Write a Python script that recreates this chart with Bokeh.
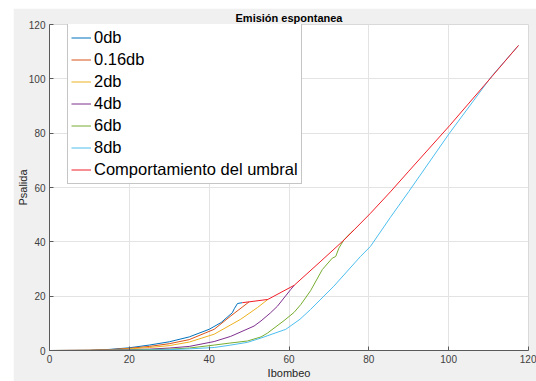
from bokeh.plotting import figure
from bokeh.layouts import column, row
from bokeh.models import Spacer, FixedTicker, Legend, LegendItem
from bokeh.embed import file_html
from bokeh.resources import INLINE

# ---- data ----
db0_x = [0, 10, 15, 20, 25, 30, 35, 40, 43, 45.8, 46.3, 47.1, 48.3]
db0_y = [0, 0.1, 0.4, 1.0, 2.0, 3.2, 5.0, 7.8, 10.3, 13.9, 15.4, 17.3, 17.6]

db016_x = [0, 10, 15, 20, 25, 30, 35, 41.25, 45.4, 50]
db016_y = [0, 0.1, 0.3, 0.8, 1.5, 2.5, 4.0, 7.8, 12.7, 17.9]

db2_x = [0, 10, 15, 20, 25, 30, 35, 41.25, 47.9, 52.1, 54.7]
db2_y = [0, 0.05, 0.2, 0.6, 1.1, 1.8, 3.1, 6.0, 11.5, 15.8, 18.8]

db4_x = [0, 10, 20, 25, 30, 35, 41.25, 45.4, 51.25, 53, 55.4, 57.1, 60.4, 61.3]
db4_y = [0, 0, 0.3, 0.5, 0.9, 1.5, 3.3, 5.2, 9.0, 10.9, 13.9, 16.3, 22.4, 24.0]

db6_x = [0, 10, 20, 30, 35, 41.25, 45, 49.6, 53, 54.6, 58.75, 61.25, 63, 65.4,
         68.35, 70.85, 71.7, 72.5, 73.75, 75.4, 76.3]
db6_y = [0, 0, 0.15, 0.5, 0.9, 2.0, 2.7, 3.5, 5.0, 6.4, 11.0, 14.0, 17.0, 22.0,
         29.8, 34.0, 34.6, 37.7, 40.7, 43.2, 44.4]

db8_x = [0, 10, 20, 30, 35, 41.25, 45, 49.6, 53, 59.2, 62.75, 65.4, 71.25, 77.9,
         80.4, 85.4, 90, 100.25, 110.8, 117.5]
db8_y = [0, 0, 0.1, 0.3, 0.6, 1.1, 1.9, 3.0, 4.6, 7.8, 11.5, 15.1, 23.7, 34.6,
         38.3, 49.0, 58.5, 80.1, 101.0, 112.3]

umbral_x = [48.3, 50, 54.7, 61.3, 68, 73.8, 76.3, 80.4, 85.4, 90, 100.25, 110.8, 117.5]
umbral_y = [17.6, 17.9, 18.8, 24.0, 32.9, 40.7, 44.4, 50.5, 58.4, 66.0, 82.8, 100.8, 112.3]

labels = ["0db", "0.16db", "2db", "4db", "6db", "8db", "Comportamiento del umbral"]
colors = ["#0072BD", "#D95319", "#EDB120", "#7E2F8E", "#77AC30", "#4DBEEE", "#F01E28"]
ticks = [0, 20, 40, 60, 80, 100, 120]

FONT = "Liberation Sans"

p = figure(width=523, height=373, x_range=(0, 120), y_range=(0, 120),
           output_backend="svg", toolbar_location=None,
           min_border_left=36, min_border_right=8, min_border_top=15,
           min_border_bottom=30)
p.border_fill_color = "#f0f0f0"
p.background_fill_color = "white"
p.outline_line_color = "#d9d9d9"

p.title.text = "Emisión espontanea"
p.title.align = "center"
p.title.text_font = FONT
p.title.text_font_size = "11px"
p.title.text_font_style = "bold"
p.title.text_color = "#000000"
p.title.standoff = 2

series = [(db0_x, db0_y), (db016_x, db016_y), (db2_x, db2_y), (db4_x, db4_y),
          (db6_x, db6_y), (db8_x, db8_y), (umbral_x, umbral_y)]
items = []
for (xs, ys), lab, col in zip(series, labels, colors):
    r = p.line(xs, ys, line_color=col, line_width=1)
    items.append(LegendItem(label=lab, renderers=[r]))

for ax in (p.xaxis[0], p.yaxis[0]):
    ax.ticker = FixedTicker(ticks=ticks)
    ax.minor_tick_line_color = None
    ax.major_tick_in = 4
    ax.major_tick_out = 0
    ax.axis_line_color = "#5a5a5a"
    ax.major_tick_line_color = "#5a5a5a"
    ax.major_label_text_font = FONT
    ax.major_label_text_font_size = "10px"
    ax.major_label_text_color = "#404040"
    ax.axis_label_text_font = FONT
    ax.axis_label_text_font_size = "11px"
    ax.axis_label_text_font_style = "normal"
    ax.axis_label_text_color = "#262626"

p.xaxis.axis_label = "Ibombeo"
p.yaxis.axis_label = "Psalida"
p.xaxis.major_label_standoff = 4
p.xaxis.axis_label_standoff = 1
p.yaxis.major_label_standoff = 4
p.yaxis.axis_label_standoff = -3

p.xgrid.grid_line_color = "#e3e3e3"
p.ygrid.grid_line_color = "#e3e3e3"

legend = Legend(items=items, location=(18, 166))
legend.label_text_font = FONT
legend.label_text_font_size = "16.5px"
legend.label_text_color = "#000000"
legend.glyph_width = 20
legend.glyph_height = 21
legend.label_height = 21
legend.label_standoff = 3
legend.spacing = 1
legend.padding = 3
legend.margin = 0
legend.border_line_color = "#8c8c8c"
legend.background_fill_color = "white"
legend.background_fill_alpha = 1
p.add_layout(legend, "center")

layout = column(Spacer(height=8), row(Spacer(width=13), p))
open("out.html", "w").write(file_html(layout, INLINE))
